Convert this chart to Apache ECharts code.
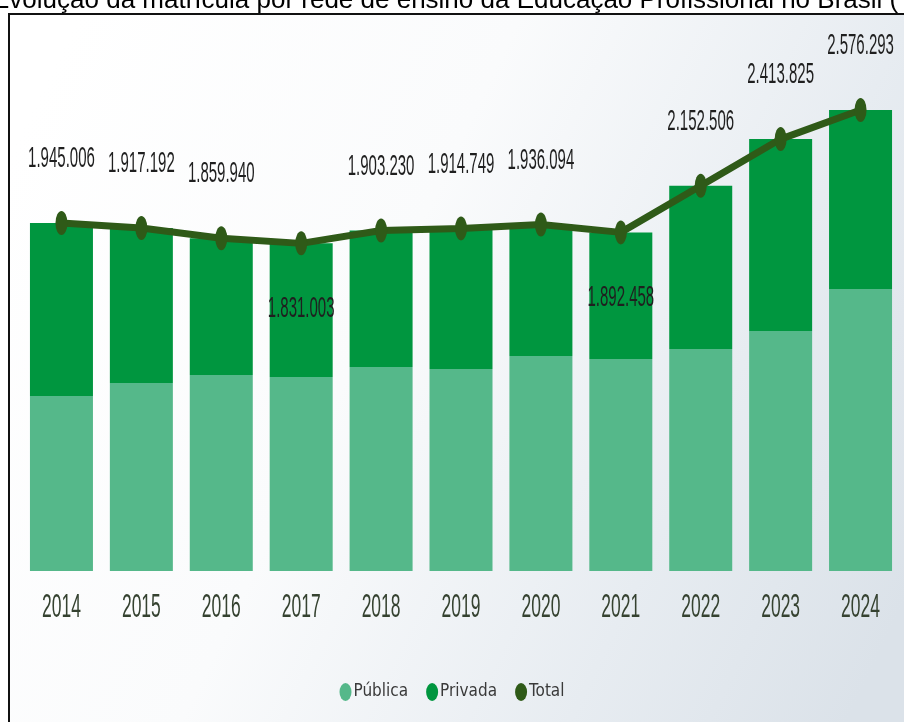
<!DOCTYPE html>
<html>
<head>
<meta charset="utf-8">
<script src="https://cdn.jsdelivr.net/npm/echarts@6/dist/echarts.min.js"></script>
<style>
html,body{margin:0;padding:0;background:#fff;}
#main{width:904px;height:722px;}
</style>
</head>
<body>
<div id="main"></div>
<script>
// dados: matrículas na Educação Profissional por rede
var anos = ['2014','2015','2016','2017','2018','2019','2020','2021','2022','2023','2024'];
var total = [1945006, 1917192, 1859940, 1831003, 1903230, 1914749, 1936094, 1892458, 2152506, 2413825, 2576293];
var publica = [978000, 1051000, 1095000, 1084000, 1140000, 1129000, 1202000, 1185000, 1241000, 1341000, 1576000];
var privada = total.map(function (t, i) { return t - publica[i]; });
var rotulosAbaixo = [3, 7]; // anos com rótulo dentro da barra

var ellipse = 'path://M0,-1A1,1 0 1,1 0,1A1,1 0 1,1 0,-1Z';

function fmt(v) {
    return String(v).replace(/\B(?=(\d{3})+(?!\d))/g, '.');
}

var myChart = echarts.init(document.getElementById('main'));
var option = {
    backgroundColor: '#ffffff',
    animation: false,
    title: {
        text: 'Evolução da matrícula por rede de ensino da Educação Profissional no Brasil (',
        left: -13,
        top: -17,
        textStyle: { fontFamily: 'Liberation Sans', fontSize: 26, fontWeight: 'normal', color: '#000' }
    },
    graphic: [{
        type: 'rect',
        z: -10,
        shape: { x: 9, y: 14, width: 900, height: 720 },
        style: {
            stroke: '#111',
            lineWidth: 2,
            fill: {
                type: 'linear', x: 0, y: 0.2, x2: 1, y2: 0.8,
                colorStops: [
                    { offset: 0, color: '#ffffff' },
                    { offset: 0.4, color: '#fafbfc' },
                    { offset: 0.75, color: '#e7ecf1' },
                    { offset: 1, color: '#dbe2e9' }
                ]
            }
        }
    }],
    legend: {
        data: [
            { name: 'Pública', icon: ellipse },
            { name: 'Privada', icon: ellipse },
            { name: 'Total', icon: ellipse }
        ],
        top: 678,
        left: 'center',
        itemWidth: 12,
        itemHeight: 18,
        itemGap: 18,
        symbolKeepAspect: false,
        textStyle: { fontFamily: "'Liberation Sans Narrow', 'DejaVu Sans Condensed', 'Liberation Sans', sans-serif", fontSize: 17, color: '#3a3a3a', padding: [0, 0, 0, -3] }
    },
    grid: { left: 21.5, right: 3.5, top: 34.2, bottom: 151 },
    xAxis: {
        type: 'category',
        data: anos,
        axisLine: { show: false },
        axisTick: { show: false },
        axisLabel: { show: false }
    },
    yAxis: {
        type: 'value',
        min: 0,
        max: 3000000,
        show: false,
        splitLine: { show: false }
    },
    series: [{
        name: 'Pública',
        type: 'bar',
        stack: 'rede',
        barWidth: 63,
        itemStyle: { color: '#55b88a' },
        data: publica
    }, {
        name: 'Privada',
        type: 'bar',
        stack: 'rede',
        barWidth: 63,
        itemStyle: { color: '#00963f' },
        data: privada
    }, {
        name: 'Total',
        type: 'line',
        z: 4,
        symbol: ellipse,
        symbolSize: [12, 24],
        lineStyle: { color: '#2f5a18', width: 7 },
        itemStyle: { color: '#2f5a18' },
        data: total
    }, {
        name: 'rotulos',
        type: 'custom',
        z: 6,
        silent: true,
        data: anos.map(function (a, i) { return [i, total[i]]; }),
        renderItem: function (params, api) {
            var i = api.value(0);
            var p = api.coord([i, api.value(1)]);
            var base = api.coord([i, 0]);
            var dy = rotulosAbaixo.indexOf(i) >= 0 ? 65 : -64;
            return {
                type: 'group',
                children: [{
                    type: 'text',
                    x: p[0], y: p[1] + dy,
                    scaleX: 0.5,
                    style: { text: fmt(total[i]), fontFamily: 'Liberation Sans', fontSize: 30, fill: '#1f1f1f', align: 'center', verticalAlign: 'middle' }
                }, {
                    type: 'text',
                    x: base[0], y: base[1] + 37,
                    scaleX: 0.53,
                    style: { text: anos[i], fontFamily: 'Liberation Sans', fontSize: 33, fill: '#354230', align: 'center', verticalAlign: 'middle' }
                }]
            };
        }
    }]
};
myChart.setOption(option);
</script>
</body>
</html>
